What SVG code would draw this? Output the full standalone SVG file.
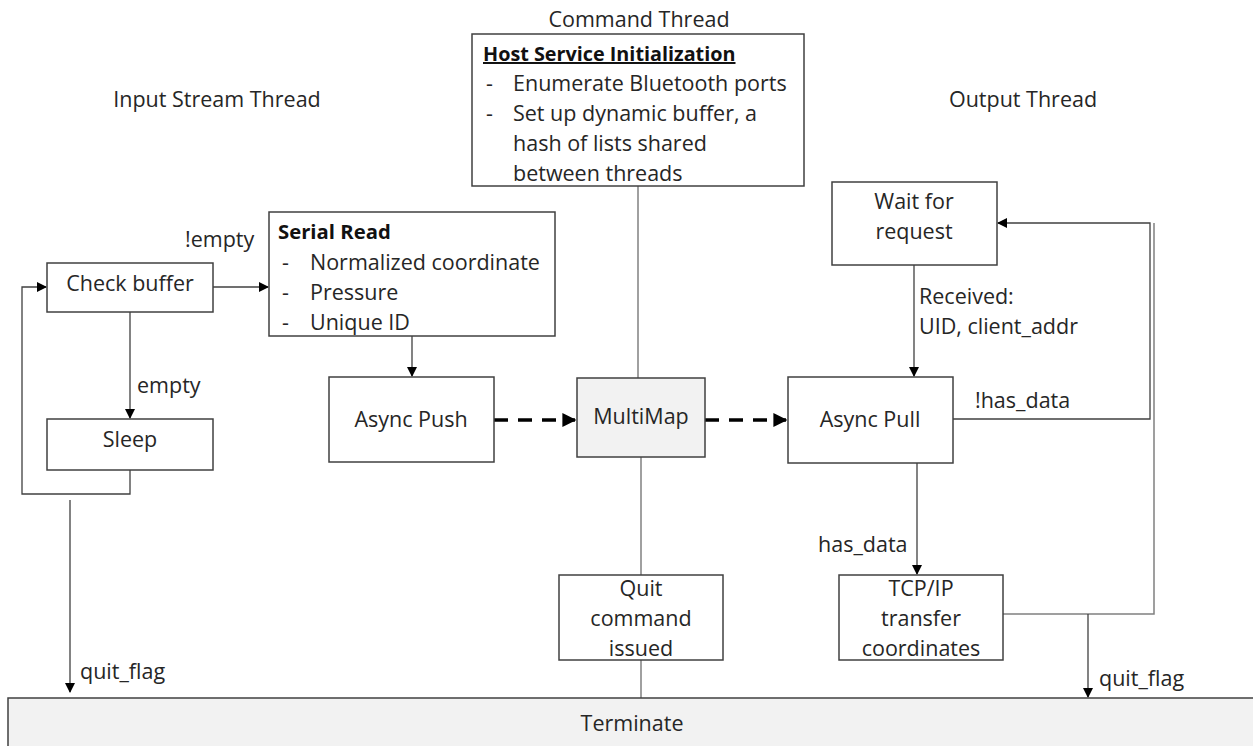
<svg xmlns="http://www.w3.org/2000/svg" width="1253" height="746" viewBox="0 0 1253 746">
<style>
text{font-family:"Open Sans","Noto Sans",sans-serif;font-size:21.5px;fill:#262626}
.c{text-anchor:middle}
.b{font-weight:bold;fill:#111;font-size:19.8px}
.box{fill:#fff;stroke:#404040;stroke-width:1.5}
.gbox{fill:#f2f2f2;stroke:#404040;stroke-width:1.5}
.ln{fill:none;stroke:#404040;stroke-width:1.3}
.gl{fill:none;stroke:#808080;stroke-width:1.5}
.dash{fill:none;stroke:#000;stroke-width:3.5;stroke-dasharray:14,10}
</style>
<defs>
<marker id="a" viewBox="0 0 10 10" refX="9" refY="5" markerWidth="10" markerHeight="10" markerUnits="userSpaceOnUse" orient="auto"><path d="M0,0L10,5L0,10z" fill="#000"/></marker>
<marker id="ad" viewBox="0 0 10 10" refX="9" refY="5" markerWidth="4" markerHeight="4" orient="auto"><path d="M0,0L10,5L0,10z" fill="#000"/></marker>
</defs>
<text class="c" x="217" y="107">Input Stream Thread</text>
<text class="c" x="639" y="27">Command Thread</text>
<text class="c" x="1023" y="107">Output Thread</text>
<g id="connectors">
<path class="ln" d="M130,312V418" marker-end="url(#a)"/>
<path class="ln" d="M130,470V494H22V287H46" marker-end="url(#a)"/>
<path class="ln" d="M213,287H268" marker-end="url(#a)"/>
<path class="ln" d="M412,336V376" marker-end="url(#a)"/>
<path class="dash" d="M494,420H575" marker-end="url(#ad)"/>
<path class="dash" d="M705,420H786" marker-end="url(#ad)"/>
<path class="gl" d="M638,186V378"/>
<path class="gl" d="M641,457V575"/>
<path class="gl" d="M641,660V698"/>
<path class="ln" d="M914,265V376" marker-end="url(#a)"/>
<path class="ln" d="M953,419H1150V223H998" marker-end="url(#a)"/>
<path class="gl" d="M1003,614H1154V223"/>
<path class="ln" d="M917,463V574" marker-end="url(#a)"/>
<path class="ln" d="M1088,614V697" marker-end="url(#a)"/>
<path class="ln" d="M70,500V692" marker-end="url(#a)"/>
<text x="185" y="247">!empty</text>
<text x="137" y="393">empty</text>
<text x="919" y="304">Received:</text>
<text x="919" y="334">UID, client_addr</text>
<text x="975" y="408">!has_data</text>
<text x="818" y="552">has_data</text>
<text x="80" y="679">quit_flag</text>
<text x="1099" y="686">quit_flag</text>
</g>
<g id="host">
<rect class="box" x="472" y="34" width="332" height="152"/>
<text class="b" x="483" y="61" text-decoration="underline">Host Service Initialization</text>
<text x="486" y="91">-</text><text x="513" y="91">Enumerate Bluetooth ports</text>
<text x="486" y="121">-</text><text x="513" y="121">Set up dynamic buffer, a</text>
<text x="513" y="151">hash of lists shared</text>
<text x="513" y="181">between threads</text>
</g>
<g id="checkbuffer">
<rect class="box" x="47" y="263" width="166" height="49"/>
<text class="c" x="130" y="291">Check buffer</text>
</g>
<g id="sleep">
<rect class="box" x="47" y="419" width="166" height="51"/>
<text class="c" x="130" y="447">Sleep</text>
</g>
<g id="serialread">
<rect class="box" x="269" y="212" width="286" height="124"/>
<text class="b" x="278" y="239" style="font-size:20.3px">Serial Read</text>
<text x="282" y="270">-</text><text x="310" y="270">Normalized coordinate</text>
<text x="282" y="300">-</text><text x="310" y="300">Pressure</text>
<text x="282" y="330">-</text><text x="310" y="330">Unique ID</text>
</g>
<g id="asyncpush">
<rect class="box" x="329" y="377" width="165" height="85"/>
<text class="c" x="411" y="427">Async Push</text>
</g>
<g id="multimap">
<rect class="gbox" x="577" y="378" width="128" height="79"/>
<text class="c" x="641" y="424">MultiMap</text>
</g>
<g id="waitrequest">
<rect class="box" x="832" y="182" width="165" height="83"/>
<text class="c" x="914" y="209">Wait for</text>
<text class="c" x="914" y="239">request</text>
</g>
<g id="asyncpull">
<rect class="box" x="788" y="377" width="165" height="86"/>
<text class="c" x="870" y="427">Async Pull</text>
</g>
<g id="quit">
<rect class="box" x="559" y="575" width="164" height="85"/>
<text class="c" x="641" y="596">Quit</text>
<text class="c" x="641" y="626">command</text>
<text class="c" x="641" y="656">issued</text>
</g>
<g id="tcpip">
<rect class="box" x="839" y="575" width="164" height="85"/>
<text class="c" x="921" y="596">TCP/IP</text>
<text class="c" x="921" y="626">transfer</text>
<text class="c" x="921" y="656">coordinates</text>
</g>
<g id="terminate">
<rect class="gbox" x="8" y="698" width="1260" height="60"/>
<text class="c" x="632" y="731">Terminate</text>
</g>
</svg>
